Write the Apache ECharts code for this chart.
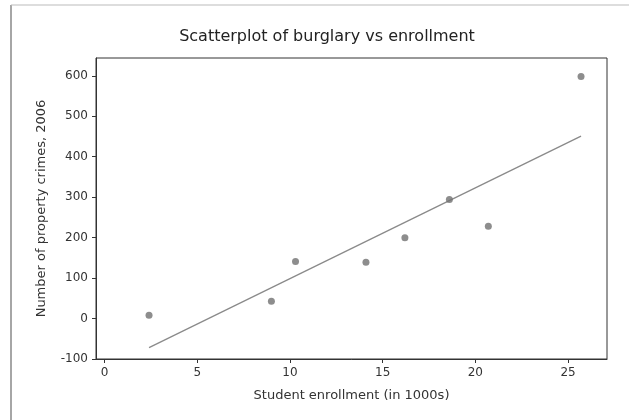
<!DOCTYPE html>
<html>
<head>
<meta charset="utf-8">
<script src="https://cdn.jsdelivr.net/npm/echarts@6/dist/echarts.min.js"></script>
<style>
  html, body { margin: 0; padding: 0; background: #fff; }
  #chart { width: 629px; height: 420px; }
</style>
</head>
<body>
<div id="chart"></div>
<script>
// student enrollment (1000s) and property crimes
var enrollment = [2.4, 9.0, 10.3, 14.1, 16.2, 18.6, 20.7, 25.7];
var crimes = [8, 43, 141, 139, 200, 294, 228, 598];
// fitted line ends
var fitX = [2.4, 25.7];
var fitY = [-72, 451];
var xTicks = [0, 5, 10, 15, 20, 25];
var yTicks = [-100, 0, 100, 200, 300, 400, 500, 600];

var points = [];
for (var i = 0; i < enrollment.length; i++) {
    points.push([enrollment[i], crimes[i]]);
}
var fitLine = [];
for (var j = 0; j < fitX.length; j++) {
    fitLine.push([fitX[j], fitY[j]]);
}

var chart = echarts.init(document.getElementById("chart"));
var fontName = "DejaVu Sans";
var option = {
    animation: false,
    backgroundColor: "#fff",
    title: {
        text: "Scatterplot of burglary vs enrollment",
        left: 322,
        top: 24,
        textAlign: "center",
        textStyle: { fontFamily: fontName, fontSize: 16, fontWeight: "normal", color: "#222" }
    },
    grid: {
        left: 96, top: 58, right: 22, bottom: 61,
        show: true, borderColor: "#333", borderWidth: 1,
        outerBoundsMode: "none"
    },
    xAxis: {
        type: "value",
        min: -0.46,
        max: 27.1,
        name: "Student enrollment (in 1000s)",
        nameLocation: "middle",
        nameGap: 30,
        nameTextStyle: { fontFamily: fontName, fontSize: 13, color: "#333" },
        axisLine: { show: true, onZero: false, lineStyle: { color: "#333" } },
        axisTick: { show: true, length: 4, customValues: xTicks, lineStyle: { color: "#333" } },
        axisLabel: { customValues: xTicks, margin: 8, fontFamily: fontName, fontSize: 12, color: "#333" },
        splitLine: { show: false }
    },
    yAxis: {
        type: "value",
        min: -100,
        max: 644,
        name: "Number of property crimes, 2006",
        nameLocation: "middle",
        nameGap: 48,
        nameTextStyle: { fontFamily: fontName, fontSize: 13, color: "#333" },
        axisLine: { show: true, onZero: false, lineStyle: { color: "#333" } },
        axisTick: { show: true, length: 4, customValues: yTicks, lineStyle: { color: "#333" } },
        axisLabel: { customValues: yTicks, margin: 8, fontFamily: fontName, fontSize: 12, color: "#333" },
        splitLine: { show: false }
    },
    graphic: [
        { type: "line", shape: { x1: 11, y1: 5, x2: 11, y2: 420 }, style: { stroke: "#888", lineWidth: 1.5 } },
        { type: "line", shape: { x1: 11, y1: 5, x2: 629, y2: 5 }, style: { stroke: "#bbb", lineWidth: 1 } }
    ],
    series: [
        {
            type: "line",
            data: fitLine,
            symbol: "none",
            lineStyle: { color: "#8a8a8a", width: 1.3 },
            z: 2
        },
        {
            type: "scatter",
            data: points,
            symbol: "circle",
            symbolSize: 7,
            itemStyle: { color: "#707070" },
            z: 3
        }
    ]
};
chart.setOption(option);
</script>
</body>
</html>
